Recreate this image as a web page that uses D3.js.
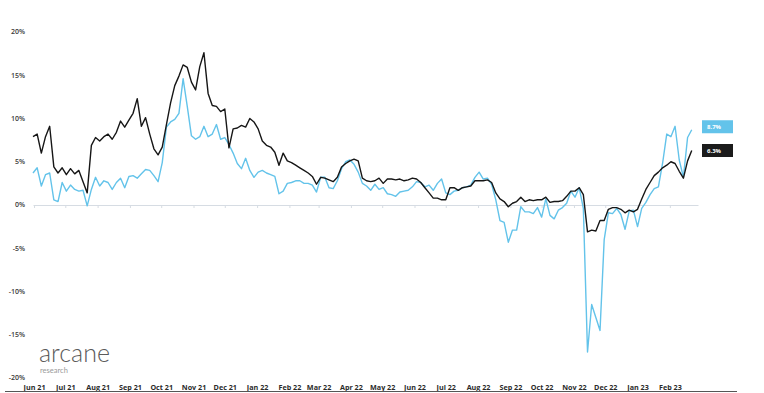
<!DOCTYPE html>
<html>
<head>
<meta charset="utf-8">
<script src="https://cdn.jsdelivr.net/npm/d3@7"></script>
<style>
  body { margin: 0; background: #fff; }
  svg { display: block; font-family: "Open Sans", Lato, sans-serif; }
</style>
</head>
<body>
<script>
// series sampled every 4 days from 31 May 2021
const startDate = new Date(2021, 4, 31);
const stepDays = 4;

const blackValues = [
  7.9, 8.2, 6.0, 7.9, 9.1, 4.4, 3.7, 4.3, 3.5, 4.2, 3.6, 4.0, 2.7, 1.4, 6.9, 7.8, 7.4, 7.9, 8.2, 7.6,
  8.4, 9.7, 9.0, 9.8, 10.6, 12.3, 9.1, 10.1, 8.2, 6.5, 5.8, 6.7, 9.3, 11.8, 13.8, 14.9, 16.2, 15.9, 14.2, 13.3,
  16.0, 17.6, 12.9, 11.5, 11.4, 10.8, 11.1, 6.6, 8.8, 8.9, 9.2, 9.0, 10.0, 9.6, 8.8, 7.4, 6.9, 6.7, 6.1, 4.6,
  6.0, 5.1, 4.9, 4.6, 4.3, 4.0, 3.7, 3.3, 2.4, 3.2, 3.1, 2.9, 2.7, 3.2, 4.4, 4.8, 5.1, 5.3, 5.1, 3.1,
  2.8, 2.7, 2.8, 3.1, 2.5, 3.0, 3.0, 2.9, 3.0, 2.8, 2.9, 3.1, 3.0, 2.6, 2.0, 1.4, 0.8, 0.8, 0.6, 0.6,
  2.0, 2.0, 1.7, 2.0, 2.1, 2.2, 2.8, 2.8, 2.8, 2.9, 2.6, 1.4, 0.7, 0.4, -0.2, 0.2, 0.4, 0.9, 0.4, 0.6,
  0.5, 0.6, 0.6, 0.9, 0.3, 0.4, 0.4, 0.5, 1.0, 1.6, 1.6, 2.0, 1.2, -3.1, -2.9, -3.0, -1.8, -1.8, -0.5, -0.3,
  -0.3, -0.5, -0.9, -0.6, -0.8, -0.5, 0.7, 1.8, 2.6, 3.4, 3.8, 4.3, 4.6, 5.0, 4.8, 3.9, 3.1, 5.1, 6.3
];

const blueValues = [
  3.7, 4.3, 2.2, 3.5, 3.7, 0.6, 0.4, 2.6, 1.6, 2.3, 1.8, 1.6, 1.7, -0.1, 1.8, 3.2, 2.2, 2.8, 2.6, 1.8,
  2.6, 3.1, 2.0, 3.3, 3.4, 3.1, 3.6, 4.1, 4.0, 3.4, 2.7, 4.9, 9.0, 9.6, 9.9, 10.6, 14.6, 11.4, 8.0, 7.6,
  7.9, 9.1, 7.9, 8.2, 9.3, 7.6, 7.8, 7.0, 6.0, 4.8, 4.2, 5.4, 4.0, 3.2, 3.8, 4.0, 3.7, 3.5, 3.3, 1.3,
  1.6, 2.5, 2.6, 2.8, 2.8, 2.5, 2.5, 2.3, 1.5, 3.2, 3.2, 2.0, 1.9, 2.8, 4.2, 5.0, 5.2, 4.7, 3.8, 2.5,
  2.2, 1.7, 2.4, 1.8, 2.0, 1.3, 1.2, 1.0, 1.5, 1.6, 1.7, 2.1, 2.7, 2.6, 2.1, 2.3, 1.7, 2.5, 3.0, 1.4,
  1.2, 1.6, 1.7, 2.0, 2.1, 2.3, 3.2, 3.8, 3.0, 3.1, 2.4, 0.6, -1.8, -2.0, -4.3, -2.9, -2.9, -0.2, -0.8, -0.8,
  -1.0, -0.3, -1.4, 0.7, -1.2, -1.6, -0.6, -0.3, 0.2, 1.6, 0.9, 2.0, -0.4, -17.0, -11.5, -13.0, -14.5, -4.0, -0.9, -1.0,
  -0.4, -1.1, -2.8, -0.7, -0.6, -2.5, -0.4, 0.3, 1.2, 1.9, 2.1, 4.8, 8.2, 7.9, 9.1, 5.2, 3.2, 7.8, 8.7
];

const yTicks = [20, 15, 10, 5, 0, -5, -10, -15, -20];
const xDomain = [new Date(2021, 4, 31), new Date(2023, 1, 28)];

const width = 764;
const height = 393;

const blueColor = '#63c3ea';
const blackColor = '#161616';

const svg = d3.select('body').append('svg')
  .attr('width', width)
  .attr('height', height);

const xScale = d3.scaleTime().domain(xDomain).range([33, 698]);
const yScale = d3.scaleLinear().domain([-20, 20]).range([378, 32]);

const dateAt = (i) => d3.timeDay.offset(startDate, i * stepDays);

// y labels
svg.append('g')
  .selectAll('text')
  .data(yTicks)
  .join('text')
  .attr('x', 25)
  .attr('y', (d) => yScale(d))
  .attr('dy', '0.35em')
  .attr('text-anchor', 'end')
  .attr('font-size', 7)
  .attr('font-weight', 600)
  .attr('fill', '#3a3a3a')
  .text((d) => d + '%');

// zero line with month ticks
const zeroAxis = svg.append('g')
  .attr('transform', `translate(0, ${yScale(0)})`)
  .call(d3.axisBottom(xScale).ticks(d3.timeMonth.every(1)).tickSize(3).tickSizeOuter(0).tickFormat(''));
zeroAxis.selectAll('path, line').attr('stroke', '#d6dce3');

// month labels at bottom
const bottomAxis = svg.append('g')
  .attr('transform', `translate(0, 382)`)
  .call(d3.axisBottom(xScale).ticks(d3.timeMonth.every(1)).tickSize(0).tickFormat(d3.timeFormat('%b %y')));
bottomAxis.select('.domain').remove();
bottomAxis.selectAll('text')
  .attr('font-family', '"Open Sans", Lato, sans-serif')
  .attr('font-size', 7.2)
  .attr('font-weight', 700)
  .attr('fill', '#2a2a2a');
bottomAxis.selectAll('.tick').filter((d) => d < new Date(2021, 5, 1)).remove();

svg.append('line')
  .attr('x1', 5).attr('x2', 737)
  .attr('y1', 391.5).attr('y2', 391.5)
  .attr('stroke', '#555').attr('stroke-width', 1);

const line = d3.line()
  .x((d, i) => xScale(dateAt(i)))
  .y((d) => yScale(d));

svg.append('path')
  .datum(blueValues)
  .attr('fill', 'none')
  .attr('stroke', blueColor)
  .attr('stroke-width', 1.4)
  .attr('stroke-linejoin', 'round')
  .attr('d', line);

svg.append('path')
  .datum(blackValues)
  .attr('fill', 'none')
  .attr('stroke', blackColor)
  .attr('stroke-width', 1.4)
  .attr('stroke-linejoin', 'round')
  .attr('d', line);

// end value tags
const tags = [
  { v: blueValues[blueValues.length - 1], color: blueColor, dy: -3 },
  { v: blackValues[blackValues.length - 1], color: '#1b1b1b', dy: 0 }
];
tags.forEach((t) => {
  const cy = yScale(t.v) + t.dy;
  svg.append('rect')
    .attr('x', 702).attr('y', cy - 6.5)
    .attr('width', 31).attr('height', 13)
    .attr('fill', t.color);
  svg.append('text')
    .attr('x', 707).attr('y', cy)
    .attr('dy', '0.35em')
    .attr('font-size', 6)
    .attr('font-weight', 700)
    .attr('fill', '#fff')
    .text(t.v.toFixed(1) + '%');
});

// logo
svg.append('text')
  .attr('x', 39).attr('y', 362)
  .attr('font-family', 'Lato, sans-serif')
  .attr('font-size', 25)
  .attr('font-weight', 300)
  .attr('fill', '#5a5a5a')
  .text('arcane');
svg.append('text')
  .attr('x', 40).attr('y', 373)
  .attr('font-family', 'Lato, sans-serif')
  .attr('font-size', 7.5)
  .attr('fill', '#9a9a9a')
  .text('research');
</script>
</body>
</html>
